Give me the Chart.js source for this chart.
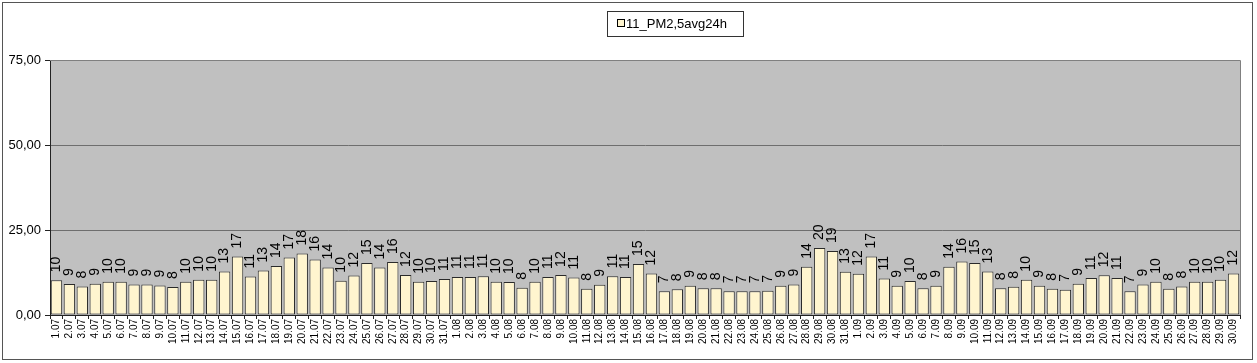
<!DOCTYPE html>
<html>
<head>
<meta charset="utf-8">
<script src="https://cdn.jsdelivr.net/npm/chart.js@4/dist/chart.umd.min.js"></script>
<style>
  html, body { margin: 0; padding: 0; background: #fff; }
  #wrap { position: relative; width: 1257px; height: 363px; }
</style>
</head>
<body>
<div id="wrap"><canvas id="myChart"></canvas></div>
<script>
const seriesName = "11_PM2,5avg24h";

const julyLabels = ["1.07","2.07","3.07","4.07","5.07","6.07","7.07","8.07","9.07","10.07",
  "11.07","12.07","13.07","14.07","15.07","16.07","17.07","18.07","19.07","20.07",
  "21.07","22.07","23.07","24.07","25.07","26.07","27.07","28.07","29.07","30.07","31.07"];
const augustLabels = ["1.08","2.08","3.08","4.08","5.08","6.08","7.08","8.08","9.08","10.08",
  "11.08","12.08","13.08","14.08","15.08","16.08","17.08","18.08","19.08","20.08",
  "21.08","22.08","23.08","24.08","25.08","26.08","27.08","28.08","29.08","30.08","31.08"];
const septemberLabels = ["1.09","2.09","3.09","4.09","5.09","6.09","7.09","8.09","9.09","10.09",
  "11.09","12.09","13.09","14.09","15.09","16.09","17.09","18.09","19.09","20.09",
  "21.09","22.09","23.09","24.09","25.09","26.09","27.09","28.09","29.09","30.09"];

const julyValues = [10.2, 9.1, 8.4, 9.2, 9.8, 9.8, 9.0, 9.0, 8.7, 8.2,
  9.8, 10.4, 10.4, 12.8, 17.2, 11.3, 13.1, 14.4, 16.9, 18.1,
  16.3, 14.0, 10.1, 11.6, 15.3, 14.0, 15.6, 11.8, 9.8, 10.0, 10.6];
const augustValues = [11.2, 11.2, 11.4, 9.8, 9.7, 8.0, 9.8, 11.2, 11.8, 11.0,
  7.7, 8.9, 11.4, 11.2, 15.0, 12.2, 7.0, 7.6, 8.6, 7.9,
  7.9, 7.0, 7.0, 7.0, 7.1, 8.6, 9.0, 14.2, 19.7, 18.8, 12.7];
const septemberValues = [12.1, 17.2, 10.7, 8.6, 10.0, 7.9, 8.6, 14.2, 15.7, 15.3,
  12.8, 7.9, 8.3, 10.4, 8.6, 7.7, 7.4, 9.2, 10.9, 11.7,
  10.9, 7.0, 9.0, 9.8, 7.7, 8.4, 9.8, 9.8, 10.4, 12.2];

const yTicks = [0, 25, 50, 75];

const labels = julyLabels.concat(augustLabels, septemberLabels);
const values = julyValues.concat(augustValues, septemberValues);

const FONT = "'Liberation Sans', Arial, sans-serif";
const barFill = "#FFF5CF";
const plotGray = "#C0C0C0";

// gray plot area + outer frame + excel style legend
const excelLook = {
  id: "excelLook",
  beforeDraw(chart) {
    const { ctx, chartArea: a } = chart;
    ctx.save();
    ctx.fillStyle = plotGray;
    ctx.fillRect(a.left, a.top, a.right - a.left, a.bottom - a.top);
    ctx.restore();
  },
  afterDraw(chart) {
    const { ctx, chartArea: a } = chart;
    ctx.save();
    // plot border
    ctx.strokeStyle = "#808080";
    ctx.lineWidth = 1;
    ctx.beginPath();
    ctx.moveTo(a.left, a.top + 0.5);
    ctx.lineTo(a.right + 0.5, a.top + 0.5);
    ctx.lineTo(a.right + 0.5, a.bottom);
    ctx.stroke();
    // outer frame
    ctx.strokeStyle = "#555";
    ctx.strokeRect(2.5, 2.5, 1250, 357);

    // legend
    const lx = 607.5, ly = 11.5, lw = 136, lh = 25;
    ctx.fillStyle = "#fff";
    ctx.fillRect(lx, ly, lw, lh);
    ctx.strokeStyle = "#333";
    ctx.strokeRect(lx, ly, lw, lh);
    ctx.fillStyle = barFill;
    ctx.fillRect(617.5, 19.5, 7, 7);
    ctx.strokeStyle = "#000";
    ctx.strokeRect(617.5, 19.5, 7, 7);
    ctx.fillStyle = "#000";
    ctx.font = "13px " + FONT;
    ctx.textBaseline = "middle";
    ctx.textAlign = "left";
    ctx.fillText(seriesName, 626, ly + lh / 2 + 0.5);
    ctx.restore();
  }
};

// rotated value labels above each bar
const barValueLabels = {
  id: "barValueLabels",
  afterDatasetsDraw(chart) {
    const { ctx } = chart;
    const meta = chart.getDatasetMeta(0);
    ctx.save();
    ctx.fillStyle = "#000";
    ctx.font = "14px " + FONT;
    ctx.textAlign = "left";
    ctx.textBaseline = "middle";
    meta.data.forEach((bar, i) => {
      const txt = String(Math.round(values[i]));
      ctx.save();
      ctx.translate(bar.x, bar.y - 8);
      ctx.rotate(-Math.PI / 2);
      ctx.fillText(txt, 0, 0);
      ctx.restore();
    });
    ctx.restore();
  }
};

new Chart(document.getElementById("myChart"), {
  type: "bar",
  data: {
    labels: labels,
    datasets: [{
      label: seriesName,
      data: values,
      backgroundColor: barFill,
      borderColor: "#2a2a2a",
      borderWidth: 1,
      borderSkipped: false,
      barPercentage: 0.88,
      categoryPercentage: 1.0
    }]
  },
  options: {
    responsive: true,
    maintainAspectRatio: false,
    animation: false,
    layout: { padding: { top: 60, left: 3, right: 17, bottom: 0 } },
    plugins: {
      legend: { display: false },
      tooltip: { enabled: false }
    },
    scales: {
      x: {
        offset: true,
        afterFit: (s) => { s.height = 48; },
        grid: {
          offset: true,
          drawOnChartArea: false,
          color: "#222",
          tickLength: 4,
          tickColor: "#222"
        },
        border: { color: "#222" },
        ticks: {
          autoSkip: false,
          minRotation: 90,
          maxRotation: 90,
          padding: 0,
          color: "#000",
          font: { family: FONT, size: 10 }
        }
      },
      y: {
        min: 0,
        max: 75,
        afterFit: (s) => { s.width = 47; },
        afterBuildTicks: (s) => { s.ticks = yTicks.map(v => ({ value: v })); },
        grid: {
          color: (c) => c.tick && c.tick.value === 0 ? "#222" : "#6e6e6e",
          tickLength: 5,
          tickColor: "#222"
        },
        border: { color: "#222" },
        ticks: {
          padding: 4,
          color: "#000",
          font: { family: FONT, size: 13 },
          callback: (v) => Number(v).toFixed(2).replace(".", ",")
        }
      }
    }
  },
  plugins: [excelLook, barValueLabels]
});
</script>
</body>
</html>
